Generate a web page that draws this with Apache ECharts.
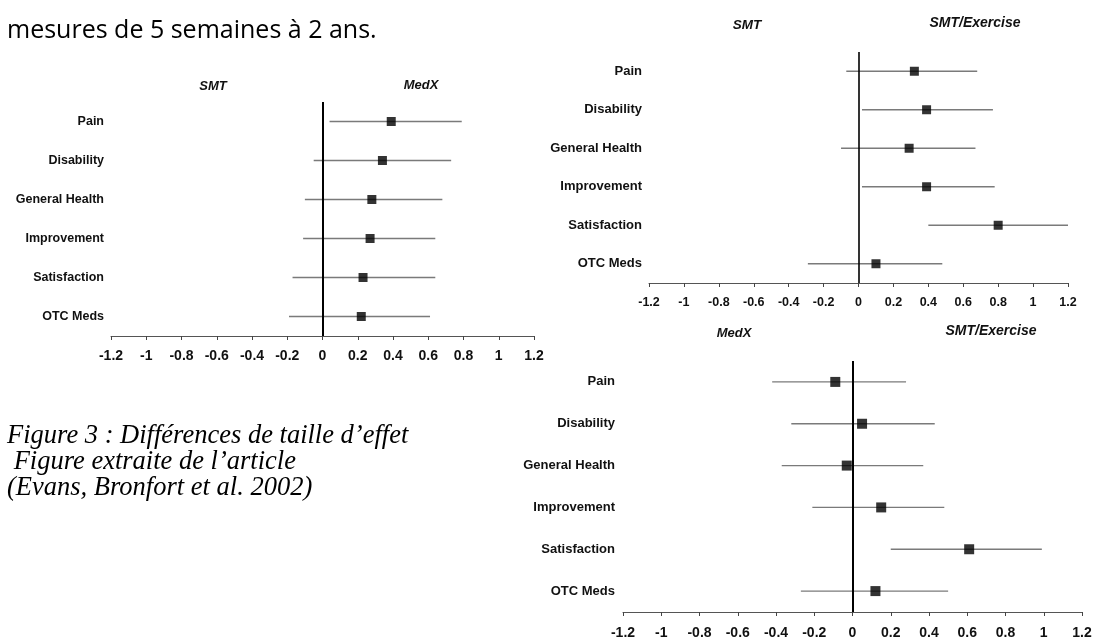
<!DOCTYPE html>
<html>
<head>
<meta charset="utf-8">
<script src="https://cdn.jsdelivr.net/npm/echarts@6/dist/echarts.min.js"></script>
<style>
  html, body { margin: 0; padding: 0; background: #fff; }
  #chart { width: 1094px; height: 641px; }
</style>
</head>
<body>
<div id="chart"></div>
<script>
// ---- data ----
const categories = ['Pain', 'Disability', 'General Health', 'Improvement', 'Satisfaction', 'OTC Meds'];

// Panel 1: SMT vs MedX
const est1 = [0.39, 0.34, 0.28, 0.27, 0.23, 0.22];
const lo1  = [0.04, -0.05, -0.10, -0.11, -0.17, -0.19];
const hi1  = [0.79, 0.73, 0.68, 0.64, 0.64, 0.61];

// Panel 2: SMT vs SMT/Exercise
const est2 = [0.32, 0.39, 0.29, 0.39, 0.80, 0.10];
const lo2  = [-0.07, 0.02, -0.10, 0.02, 0.40, -0.29];
const hi2  = [0.68, 0.77, 0.67, 0.78, 1.20, 0.48];

// Panel 3: MedX vs SMT/Exercise
const est3 = [-0.09, 0.05, -0.03, 0.15, 0.61, 0.12];
const lo3  = [-0.42, -0.32, -0.37, -0.21, 0.20, -0.27];
const hi3  = [0.28, 0.43, 0.37, 0.48, 0.99, 0.50];

const axisMin = -1.2, axisMax = 1.2, axisStep = 0.2;

const panelTitles = [['SMT', 'MedX'], ['SMT', 'SMT/Exercise'], ['MedX', 'SMT/Exercise']];
const introText = 'mesures de 5 semaines à 2 ans.';
const captionLines = ['Figure 3 : Différences de taille d’effet', ' Figure extraite de l’article', '(Evans, Bronfort et al. 2002)'];

// ---- layout ----
const FONT = 'Liberation Sans, Arial, sans-serif';
const panels = [
  { est: est1, lo: lo1, hi: hi1, grid: { left: 111, top: 102, width: 423, height: 234 }, labelSize: 12.5, tickSize: 14, yMargin: 7, xMargin: 13, zeroW: 2, mark: 9,
    titles: [{ x: 213, y: 86, size: 13 }, { x: 421, y: 85, size: 13 }] },
  { est: est2, lo: lo2, hi: hi2, grid: { left: 649, top: 52, width: 419, height: 231 }, labelSize: 13, tickSize: 12.5, yMargin: 7, xMargin: 13, zeroW: 1.6, mark: 9,
    titles: [{ x: 747, y: 25, size: 13.5 }, { x: 975, y: 23, size: 14 }] },
  { est: est3, lo: lo3, hi: hi3, grid: { left: 623, top: 361, width: 459, height: 251 }, labelSize: 13, tickSize: 14, yMargin: 8, xMargin: 14, zeroW: 2, mark: 10,
    titles: [{ x: 734, y: 333, size: 13 }, { x: 991, y: 331, size: 14 }] }
];

const grids = [], xAxes = [], yAxes = [], series = [], graphics = [];

panels.forEach((p, k) => {
  grids.push(Object.assign({ outerBoundsMode: 'none', containLabel: false }, p.grid));
  xAxes.push({
    type: 'value', gridIndex: k, min: axisMin, max: axisMax, interval: axisStep,
    axisLine: { show: true, onZero: false, lineStyle: { color: '#555', width: 1 } },
    axisTick: { show: true, inside: false, length: 4, lineStyle: { color: '#444' } },
    splitLine: { show: false },
    axisLabel: { margin: p.xMargin, fontFamily: FONT, fontWeight: 'bold', fontSize: p.tickSize, color: '#111',
      formatter: v => String(Math.round(v * 10) / 10) }
  });
  yAxes.push({
    type: 'category', gridIndex: k, data: categories, inverse: true,
    axisLine: { show: false }, axisTick: { show: false }, splitLine: { show: false },
    axisLabel: { margin: p.yMargin, fontFamily: FONT, fontWeight: 'bold', fontSize: p.labelSize, color: '#111' }
  });
  series.push({
    type: 'custom', xAxisIndex: k, yAxisIndex: k, silent: true, z: 2,
    data: categories.map((c, i) => [p.lo[i], p.hi[i], i]),
    renderItem: (params, api) => {
      const a = api.coord([api.value(0), api.value(2)]);
      const b = api.coord([api.value(1), api.value(2)]);
      return { type: 'line', shape: { x1: a[0], y1: a[1], x2: b[0], y2: b[1] },
        style: { stroke: '#7a7a7a', lineWidth: 1.3 } };
    }
  });
  series.push({
    type: 'scatter', xAxisIndex: k, yAxisIndex: k, silent: true, z: 4,
    symbol: 'rect', symbolSize: p.mark, itemStyle: { color: '#000' },
    data: categories.map((c, i) => [p.est[i], i]),
    markLine: {
      silent: true, symbol: 'none', label: { show: false }, animation: false,
      lineStyle: { color: '#000', width: p.zeroW, type: 'solid' },
      data: [{ xAxis: 0 }]
    }
  });
  p.titles.forEach((t, j) => {
    graphics.push({ type: 'text', x: t.x, y: t.y, silent: true,
      style: { text: panelTitles[k][j], fontFamily: FONT, fontSize: t.size, fontWeight: 'bold', fontStyle: 'italic',
        fill: '#111', align: 'center', verticalAlign: 'middle', textAlign: 'center', textVerticalAlign: 'middle' } });
  });
});

graphics.push({ type: 'text', x: 7, y: 31, silent: true,
  style: { text: introText, fontFamily: 'Open Sans, Lato, sans-serif', fontSize: 25, fill: '#000',
    align: 'left', verticalAlign: 'middle', textAlign: 'left', textVerticalAlign: 'middle' } });

captionLines.forEach((line, i) => {
  graphics.push({ type: 'text', x: 7, y: 436 + i * 26, silent: true,
    style: { text: line, fontFamily: 'Liberation Serif, Times New Roman, serif', fontStyle: 'italic', fontSize: 26.5, fill: '#000',
      align: 'left', verticalAlign: 'middle', textAlign: 'left', textVerticalAlign: 'middle' } });
});

const chart = echarts.init(document.getElementById('chart'), null, { renderer: 'canvas' });
chart.setOption({
  animation: false,
  backgroundColor: '#fff',
  grid: grids, xAxis: xAxes, yAxis: yAxes, series: series,
  graphic: { elements: graphics }
});
</script>
</body>
</html>
